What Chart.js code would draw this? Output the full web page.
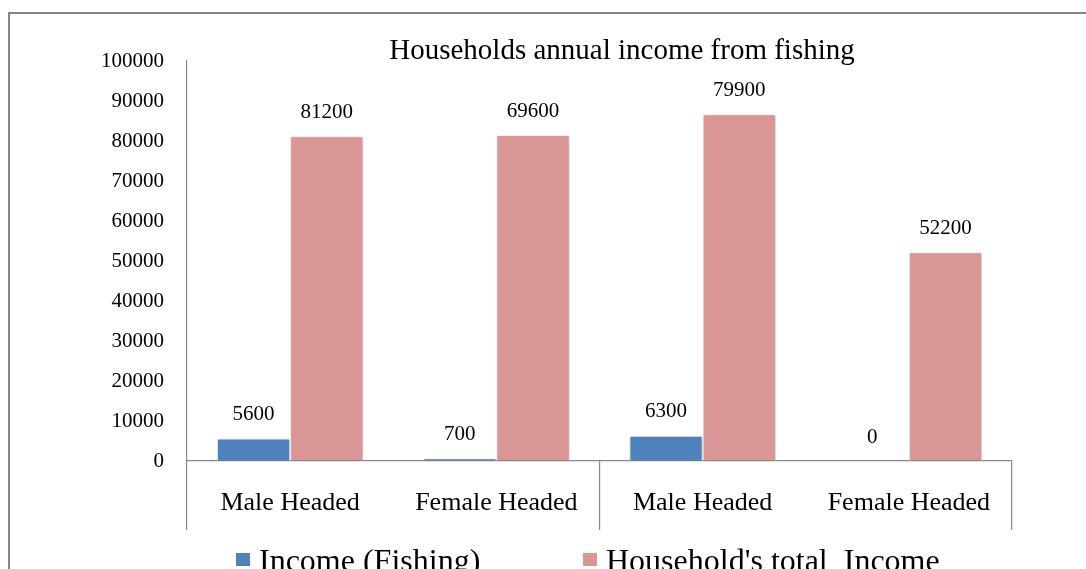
<!DOCTYPE html>
<html>
<head>
<meta charset="utf-8">
<script src="https://cdn.jsdelivr.net/npm/chart.js@4.4.1/dist/chart.umd.min.js"></script>
<style>
  html, body { margin: 0; padding: 0; background: #fff; overflow: hidden; }
  body { width: 1086px; height: 569px; position: relative; }
  #frame { position: absolute; left: 8px; top: 12px; width: 1224px; height: 620px; border: 2px solid #868686; }
  #chart { display: block; }
  #title { position: absolute; left: 322px; width: 600px; top: 32px; text-align: center; font: 29px "Liberation Serif", "Times New Roman", serif; line-height: 34px; color: #000; white-space: nowrap; }
  .legend { position: absolute; top: 544px; height: 40px; font: 32px "Liberation Serif", "Times New Roman", serif; line-height: 32px; color: #000; white-space: pre; }
  .legend .box { position: absolute; left: 0; top: 9px; width: 14px; height: 13px; }
  .legend .txt { position: absolute; left: 23px; top: 0; }
</style>
</head>
<body>
<div id="frame"><canvas id="chart" width="1224" height="547"></canvas></div>
<div id="title">Households annual income from fishing</div>
<div class="legend" style="left:236px"><span class="box" style="background:#4f81bd"></span><span class="txt">Income (Fishing)</span></div>
<div class="legend" style="left:583px"><span class="box" style="background:#d99694"></span><span class="txt">Household's total  Income</span></div>
<script>
const categories = ['Male Headed', 'Female Headed', 'Male Headed', 'Female Headed'];
const fishingIncome = [5600, 700, 6300, 0];
const totalIncome = [81200, 81500, 86700, 52200];
// the printed labels on the pink bars do not all match the bar heights
const fishingLabels = ['5600', '700', '6300', '0'];
const totalLabels = ['81200', '69600', '79900', '52200'];
const yTicks = [0, 10000, 20000, 30000, 40000, 50000, 60000, 70000, 80000, 90000, 100000];

const serif = '"Liberation Serif", "Times New Roman", serif';
const axisGray = '#8a8a8a';

// soft shadow behind the bars, like the office chart
const barShadow = {
  id: 'barShadow',
  beforeDatasetsDraw(chart) {
    const ctx = chart.ctx;
    ctx.save();
    ctx.shadowColor = 'rgba(0,0,0,0.28)';
    ctx.shadowBlur = 4;
    ctx.shadowOffsetX = 1;
    ctx.shadowOffsetY = 1;
  },
  afterDatasetsDraw(chart) {
    chart.ctx.restore();
  }
};

// text labels above each bar
const barLabels = {
  id: 'barLabels',
  afterDatasetsDraw(chart) {
    const ctx = chart.ctx;
    const texts = [fishingLabels, totalLabels];
    ctx.save();
    ctx.font = '21px ' + serif;
    ctx.fillStyle = '#000';
    ctx.textAlign = 'center';
    ctx.textBaseline = 'middle';
    chart.data.datasets.forEach((ds, di) => {
      chart.getDatasetMeta(di).data.forEach((bar, i) => {
        ctx.fillText(texts[di][i], bar.x, bar.y - 24);
      });
    });
    ctx.restore();
  }
};

new Chart(document.getElementById('chart'), {
  type: 'bar',
  data: {
    labels: categories,
    datasets: [
      {
        label: 'Income (Fishing)',
        data: fishingIncome,
        backgroundColor: '#4f81bd',
        borderColor: '#ffffff',
        borderWidth: 1
      },
      {
        label: "Household's total  Income",
        data: totalIncome,
        backgroundColor: '#d99694',
        borderColor: '#ffffff',
        borderWidth: 1
      }
    ]
  },
  options: {
    responsive: false,
    animation: false,
    categoryPercentage: 0.71,
    barPercentage: 1,
    layout: { padding: { top: 47, right: 222, bottom: 0, left: 0 } },
    plugins: {
      legend: { display: false },
      tooltip: { enabled: false },
      title: { display: false }
    },
    scales: {
      x: {
        grid: {
          drawOnChartArea: false,
          drawTicks: true,
          tickLength: 69,
          color: c => (c.index % 2 === 1 ? 'transparent' : axisGray),
          lineWidth: 1.2
        },
        border: { display: true, color: axisGray, width: 1.2 },
        ticks: {
          color: '#000',
          font: { family: serif, size: 26 },
          padding: -42,
          maxRotation: 0
        },
        afterFit(scale) { scale.height = 100; }
      },
      y: {
        min: 0,
        max: 100000,
        afterBuildTicks(scale) { scale.ticks = yTicks.map(v => ({ value: v })); },
        grid: { drawOnChartArea: false, drawTicks: false },
        border: { display: true, color: axisGray, width: 1.2 },
        ticks: {
          color: '#000',
          font: { family: serif, size: 21 },
          padding: 23,
          callback: v => String(v)
        },
        afterFit(scale) { scale.width = 177; }
      }
    }
  },
  plugins: [barShadow, barLabels]
});
</script>
</body>
</html>
